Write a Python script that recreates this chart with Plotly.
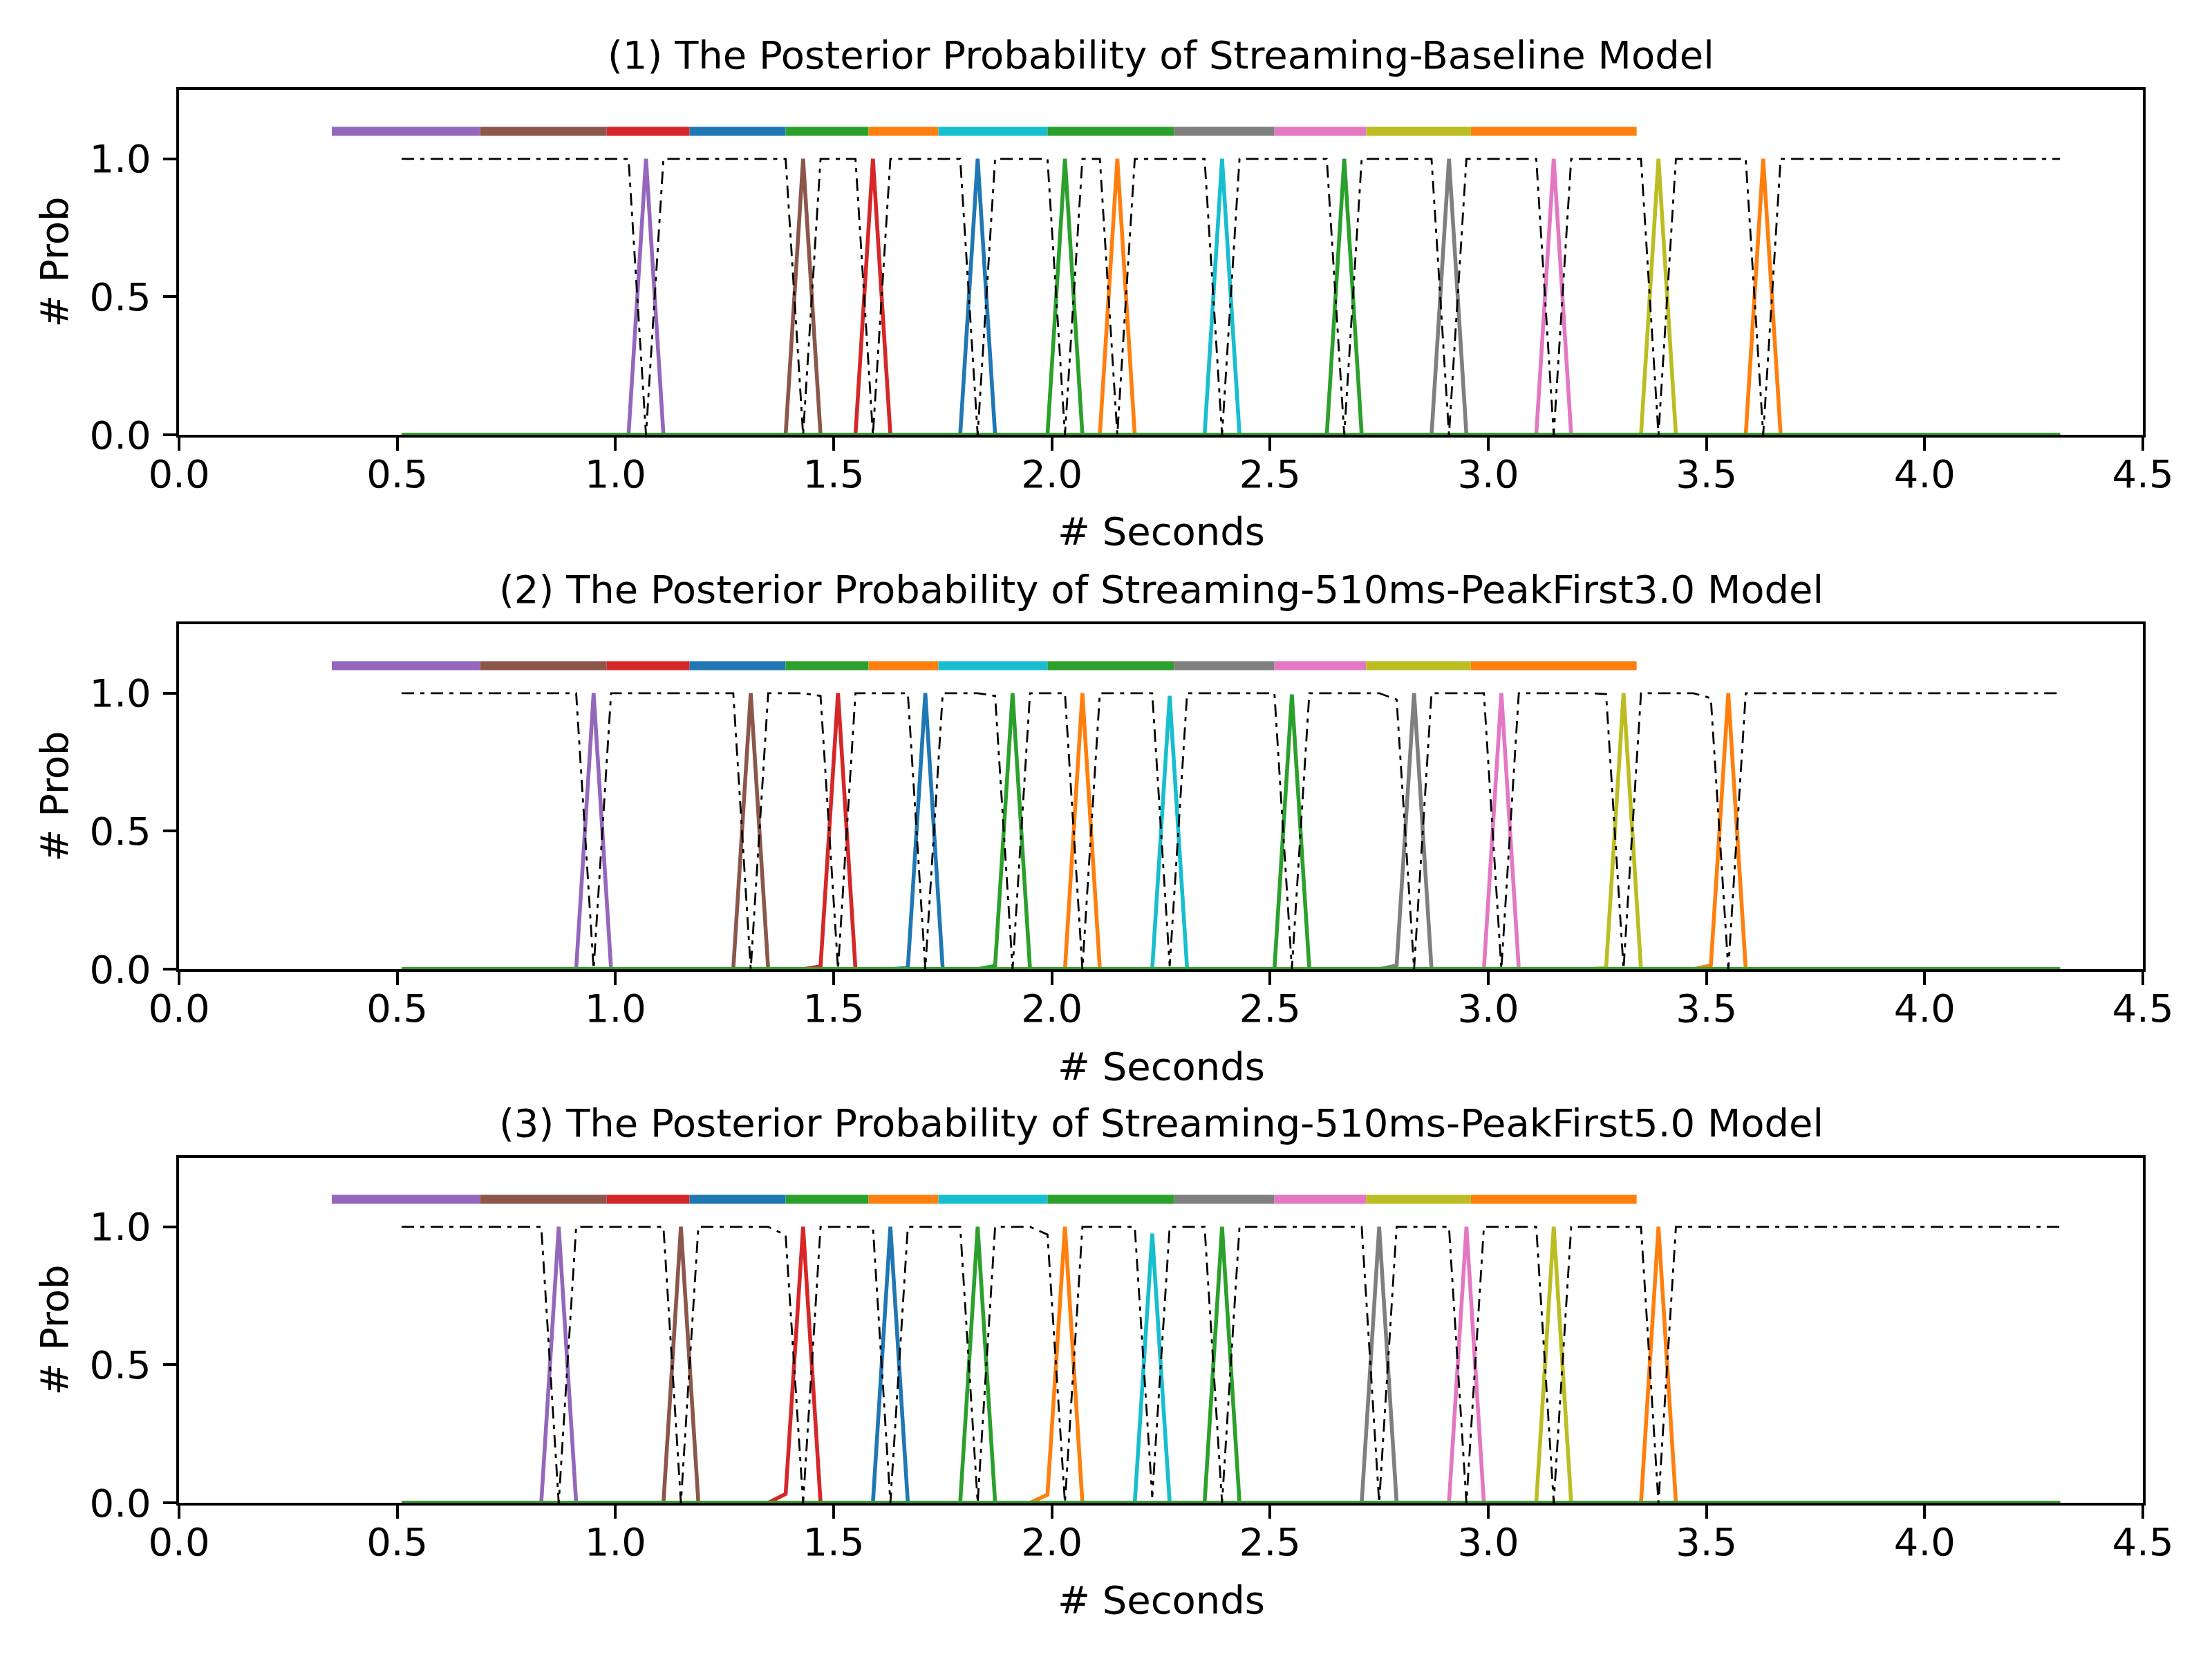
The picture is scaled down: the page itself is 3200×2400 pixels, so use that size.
"""CTC posterior spikes of three streaming models, one panel per model.

Each panel: token posteriors (solid, tab10), blank posterior (black dash-dot)
and the forced-alignment token segments drawn as a coloured bar at y = 1.1.
"""

import numpy as np
import plotly.graph_objects as go

# frame grid of the model output (40 ms hop)
FRAME_START = 0.51
FRAME_STEP = 0.04
N_FRAMES = 96

# tab10 colours, one per token in utterance order
TOKEN_COLORS = ["#9467bd", "#8c564b", "#d62728", "#1f77b4", "#2ca02c", "#ff7f0e",
                "#17becf", "#2ca02c", "#7f7f7f", "#e377c2", "#bcbd22", "#ff7f0e"]
# order the token curves are drawn in (a green one ends up on top along y=0)
DRAW_ORDER = [0, 1, 2, 3, 5, 6, 8, 9, 10, 11, 4, 7]

# alignment segment boundaries (s), 12 tokens -> 13 edges
SEG_EDGES = [0.35, 0.69, 0.98, 1.17, 1.39, 1.58, 1.74, 1.99, 2.28, 2.51,
             2.72, 2.96, 3.34]
SEG_Y = 1.1

TITLES = [
    "(1) The Posterior Probability of Streaming-Baseline Model",
    "(2) The Posterior Probability of Streaming-510ms-PeakFirst3.0 Model",
    "(3) The Posterior Probability of Streaming-510ms-PeakFirst5.0 Model",
]

# spike time (s) and peak posterior per token
PEAK_T_1 = [1.07, 1.43, 1.59, 1.83, 2.03, 2.15, 2.39, 2.67, 2.91, 3.15, 3.39, 3.63]
PEAK_P_1 = [1.0, 1.0, 1.0, 1.0, 1.0, 1.0, 1.0, 1.0, 1.0, 1.0, 1.0, 1.0]
PEAK_T_2 = [0.95, 1.31, 1.51, 1.71, 1.91, 2.07, 2.27, 2.55, 2.83, 3.03, 3.31, 3.55]
PEAK_P_2 = [1.0, 1.0, 1.0, 1.0, 1.0, 1.0, 0.99, 0.995, 1.0, 1.0, 1.0, 1.0]
PEAK_T_3 = [0.87, 1.15, 1.43, 1.63, 1.83, 2.03, 2.23, 2.39, 2.75, 2.95, 3.15, 3.39]
PEAK_P_3 = [1.0, 1.0, 1.0, 1.0, 1.0, 1.0, 0.975, 1.0, 1.0, 1.0, 1.0, 1.0]

# small token mass one frame before the spike: (token index, time, prob)
LEAK_1 = []
LEAK_2 = [(2, 1.47, 0.01), (3, 1.67, 0.004), (4, 1.87, 0.012),
          (8, 2.79, 0.013), (10, 3.27, 0.004), (11, 3.51, 0.013)]
LEAK_3 = [(2, 1.39, 0.032), (5, 1.99, 0.029)]

# blank posterior where it leaves 1.0: (time, prob)
BLANK_DIPS_1 = [(t, 0.0) for t in PEAK_T_1]
BLANK_DIPS_2 = [(0.95, 0.0), (1.31, 0.0), (1.47, 0.99), (1.51, 0.0), (1.71, 0.0),
                (1.87, 0.99), (1.91, 0.0), (2.07, 0.0), (2.27, 0.01), (2.55, 0.0),
                (2.79, 0.977), (2.83, 0.0), (3.03, 0.0), (3.27, 0.997),
                (3.31, 0.0), (3.51, 0.982), (3.55, 0.0)]
BLANK_DIPS_3 = [(0.87, 0.0), (1.15, 0.0), (1.39, 0.97), (1.43, 0.0), (1.63, 0.0),
                (1.83, 0.0), (1.99, 0.972), (2.03, 0.0), (2.23, 0.02), (2.39, 0.0),
                (2.75, 0.0), (2.95, 0.0), (3.15, 0.0), (3.39, 0.0)]

PANELS = [
    (PEAK_T_1, PEAK_P_1, LEAK_1, BLANK_DIPS_1),
    (PEAK_T_2, PEAK_P_2, LEAK_2, BLANK_DIPS_2),
    (PEAK_T_3, PEAK_P_3, LEAK_3, BLANK_DIPS_3),
]

X_TICKS = [0.0, 0.5, 1.0, 1.5, 2.0, 2.5, 3.0, 3.5, 4.0, 4.5]
Y_TICKS = [0.0, 0.5, 1.0]

# layout in figure pixels; the page body adds an 8 px margin, so the figure
# is 16 px smaller than the 3200x2400 window and everything sits 8 px up/left
W, H = 3184, 2384
M_L, M_R, M_T, M_B = 251, 92, 122, 218
PLOT_H = H - M_T - M_B
AX_TOPS = [122, 895, 1667]       # px from top of figure
AX_H = 499
FONT = dict(family="DejaVu Sans", size=56, color="black")
LW_AXIS = 4.4
LW_TOKEN = 5.6
LW_BLANK = 2.8


def frame_index(t):
    return int(round((t - FRAME_START) / FRAME_STEP))


frames = np.round(FRAME_START + FRAME_STEP * np.arange(N_FRAMES), 2)

fig = go.Figure()
annotations = []
for p, (peak_t, peak_p, leaks, dips) in enumerate(PANELS):
    xa = "x" if p == 0 else f"x{p + 1}"
    ya = "y" if p == 0 else f"y{p + 1}"

    tokens = np.zeros((len(peak_t), N_FRAMES))
    for k, (t, v) in enumerate(zip(peak_t, peak_p)):
        tokens[k, frame_index(t)] = v
    for k, t, v in leaks:
        tokens[k, frame_index(t)] = v
    blank = np.ones(N_FRAMES)
    for t, v in dips:
        blank[frame_index(t)] = v

    for k in DRAW_ORDER:
        fig.add_trace(go.Scatter(
            x=frames, y=tokens[k], mode="lines", xaxis=xa, yaxis=ya,
            line=dict(color=TOKEN_COLORS[k], width=LW_TOKEN),
            showlegend=False, hoverinfo="skip"))
    fig.add_trace(go.Scatter(
        x=frames, y=blank, mode="lines", xaxis=xa, yaxis=ya,
        line=dict(color="black", width=LW_BLANK, dash="18px,9px,6px,9px"),
        showlegend=False, hoverinfo="skip"))
    for k in range(len(SEG_EDGES) - 1):
        fig.add_trace(go.Scatter(
            x=[SEG_EDGES[k], SEG_EDGES[k + 1]], y=[SEG_Y, SEG_Y], mode="lines",
            xaxis=xa, yaxis=ya,
            line=dict(color=TOKEN_COLORS[k], width=13),
            showlegend=False, hoverinfo="skip"))

    top = 1 - (AX_TOPS[p] - M_T) / PLOT_H
    bottom = 1 - (AX_TOPS[p] + AX_H - M_T) / PLOT_H
    common = dict(showline=True, linecolor="black", linewidth=LW_AXIS, mirror=True,
                  ticks="outside", ticklen=19, tickwidth=LW_AXIS, tickcolor="black",
                  showgrid=False, zeroline=False, tickfont=FONT,
                  layer="above traces")
    fig.layout[f"xaxis{'' if p == 0 else p + 1}"] = dict(
        common, range=[0, 4.5], tickvals=X_TICKS, tickformat=".1f",
        ticklabelstandoff=-14, anchor=ya, domain=[0, 1])
    fig.layout[f"yaxis{'' if p == 0 else p + 1}"] = dict(
        common, range=[0, 1.25], tickvals=Y_TICKS, tickformat=".1f",
        ticklabelstandoff=6, anchor=xa, domain=[max(bottom, 0), min(top, 1)])

    annotations += [
        dict(text=TITLES[p], x=0.5, y=top, xref="paper", yref="paper",
             yanchor="middle", yshift=51, showarrow=False, font=FONT),
        dict(text="# Seconds", x=0.5, y=bottom, xref="paper", yref="paper",
             yanchor="middle", yshift=-140, showarrow=False, font=FONT),
        dict(text="# Prob", x=0, y=(top + bottom) / 2, xref="paper", yref="paper",
             xanchor="center", yanchor="middle", xshift=-181, textangle=-90,
             showarrow=False, font=FONT),
    ]

fig.update_layout(
    width=W, height=H, paper_bgcolor="white", plot_bgcolor="white",
    margin=dict(l=M_L, r=M_R, t=M_T, b=M_B, autoexpand=False),
    font=FONT, annotations=annotations, showlegend=False,
)

fig.write_html("out.html")
